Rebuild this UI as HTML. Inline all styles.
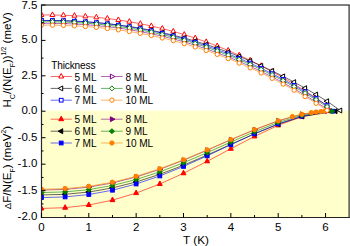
<!DOCTYPE html><html><head><meta charset="utf-8"><style>html,body{margin:0;padding:0;background:#fff;overflow:hidden;}svg{display:block;}text{font-family:"Liberation Sans",sans-serif;fill:#000;}</style></head><body>
<svg width="350" height="246" viewBox="0 0 350 246">
<rect x="0" y="0" width="350" height="246" fill="#FFFFFF"/>
<rect x="41.50" y="110.60" width="307.60" height="106.90" fill="#FFFFCC"/>
<defs><clipPath id="cp"><rect x="41.50" y="5.00" width="307.60" height="212.50"/></clipPath></defs>
<g clip-path="url(#cp)">
<polyline points="41.45,208.45 65.12,207.70 88.80,205.00 112.48,200.13 136.15,193.09 159.82,184.03 183.50,173.28 207.18,161.30 230.85,148.75 254.53,136.44 278.20,125.35 301.88,116.67 331.23,111.20" fill="none" stroke="#FF0000" stroke-width="0.60"/>
<polygon points="41.45,205.41 39.00,209.97 43.90,209.97" fill="#FF0000" stroke="#FF0000" stroke-width="1.00"/>
<polygon points="65.12,204.65 62.68,209.21 67.57,209.21" fill="#FF0000" stroke="#FF0000" stroke-width="1.00"/>
<polygon points="88.80,201.95 86.35,206.51 91.25,206.51" fill="#FF0000" stroke="#FF0000" stroke-width="1.00"/>
<polygon points="112.48,197.08 110.03,201.64 114.92,201.64" fill="#FF0000" stroke="#FF0000" stroke-width="1.00"/>
<polygon points="136.15,190.04 133.70,194.60 138.60,194.60" fill="#FF0000" stroke="#FF0000" stroke-width="1.00"/>
<polygon points="159.82,180.98 157.38,185.54 162.27,185.54" fill="#FF0000" stroke="#FF0000" stroke-width="1.00"/>
<polygon points="183.50,170.23 181.05,174.79 185.95,174.79" fill="#FF0000" stroke="#FF0000" stroke-width="1.00"/>
<polygon points="207.18,158.26 204.73,162.82 209.62,162.82" fill="#FF0000" stroke="#FF0000" stroke-width="1.00"/>
<polygon points="230.85,145.70 228.40,150.26 233.30,150.26" fill="#FF0000" stroke="#FF0000" stroke-width="1.00"/>
<polygon points="254.53,133.39 252.08,137.95 256.97,137.95" fill="#FF0000" stroke="#FF0000" stroke-width="1.00"/>
<polygon points="278.20,122.30 275.75,126.86 280.65,126.86" fill="#FF0000" stroke="#FF0000" stroke-width="1.00"/>
<polygon points="301.88,113.62 299.43,118.18 304.32,118.18" fill="#FF0000" stroke="#FF0000" stroke-width="1.00"/>
<polygon points="331.23,108.15 328.78,112.71 333.68,112.71" fill="#FF0000" stroke="#FF0000" stroke-width="1.00"/>
<polyline points="41.45,14.91 52.44,14.98 63.42,15.23 74.41,15.70 85.39,16.39 96.38,17.32 107.36,18.51 118.35,19.97 129.33,21.69 140.32,23.70 151.30,25.99 162.29,28.57 173.27,31.45 184.26,34.64 195.24,38.13 206.23,41.94 217.21,46.06 228.20,50.51 239.18,55.28 250.17,60.37 261.15,65.80 272.14,71.57 283.12,77.68 294.11,84.12 305.09,90.92 316.08,98.06 327.07,105.55" fill="none" stroke="#FF0000" stroke-width="0.60"/>
<polygon points="41.45,11.86 39.00,16.42 43.90,16.42" fill="#FFFFFF" stroke="#FF0000" stroke-width="1.00"/>
<polygon points="52.44,11.93 49.99,16.49 54.88,16.49" fill="#FFFFFF" stroke="#FF0000" stroke-width="1.00"/>
<polygon points="63.42,12.19 60.97,16.75 65.87,16.75" fill="#FFFFFF" stroke="#FF0000" stroke-width="1.00"/>
<polygon points="74.41,12.65 71.96,17.21 76.85,17.21" fill="#FFFFFF" stroke="#FF0000" stroke-width="1.00"/>
<polygon points="85.39,13.34 82.94,17.90 87.84,17.90" fill="#FFFFFF" stroke="#FF0000" stroke-width="1.00"/>
<polygon points="96.38,14.27 93.93,18.83 98.82,18.83" fill="#FFFFFF" stroke="#FF0000" stroke-width="1.00"/>
<polygon points="107.36,15.46 104.91,20.02 109.81,20.02" fill="#FFFFFF" stroke="#FF0000" stroke-width="1.00"/>
<polygon points="118.35,16.92 115.90,21.48 120.79,21.48" fill="#FFFFFF" stroke="#FF0000" stroke-width="1.00"/>
<polygon points="129.33,18.64 126.88,23.20 131.78,23.20" fill="#FFFFFF" stroke="#FF0000" stroke-width="1.00"/>
<polygon points="140.32,20.65 137.87,25.21 142.76,25.21" fill="#FFFFFF" stroke="#FF0000" stroke-width="1.00"/>
<polygon points="151.30,22.94 148.85,27.50 153.75,27.50" fill="#FFFFFF" stroke="#FF0000" stroke-width="1.00"/>
<polygon points="162.29,25.52 159.84,30.08 164.74,30.08" fill="#FFFFFF" stroke="#FF0000" stroke-width="1.00"/>
<polygon points="173.27,28.41 170.82,32.97 175.72,32.97" fill="#FFFFFF" stroke="#FF0000" stroke-width="1.00"/>
<polygon points="184.26,31.59 181.81,36.15 186.71,36.15" fill="#FFFFFF" stroke="#FF0000" stroke-width="1.00"/>
<polygon points="195.24,35.08 192.79,39.64 197.69,39.64" fill="#FFFFFF" stroke="#FF0000" stroke-width="1.00"/>
<polygon points="206.23,38.89 203.78,43.45 208.68,43.45" fill="#FFFFFF" stroke="#FF0000" stroke-width="1.00"/>
<polygon points="217.21,43.01 214.77,47.57 219.66,47.57" fill="#FFFFFF" stroke="#FF0000" stroke-width="1.00"/>
<polygon points="228.20,47.46 225.75,52.02 230.65,52.02" fill="#FFFFFF" stroke="#FF0000" stroke-width="1.00"/>
<polygon points="239.18,52.23 236.74,56.79 241.63,56.79" fill="#FFFFFF" stroke="#FF0000" stroke-width="1.00"/>
<polygon points="250.17,57.33 247.72,61.89 252.62,61.89" fill="#FFFFFF" stroke="#FF0000" stroke-width="1.00"/>
<polygon points="261.15,62.76 258.71,67.32 263.60,67.32" fill="#FFFFFF" stroke="#FF0000" stroke-width="1.00"/>
<polygon points="272.14,68.52 269.69,73.08 274.59,73.08" fill="#FFFFFF" stroke="#FF0000" stroke-width="1.00"/>
<polygon points="283.12,74.63 280.68,79.19 285.57,79.19" fill="#FFFFFF" stroke="#FF0000" stroke-width="1.00"/>
<polygon points="294.11,81.08 291.66,85.64 296.56,85.64" fill="#FFFFFF" stroke="#FF0000" stroke-width="1.00"/>
<polygon points="305.09,87.87 302.65,92.43 307.54,92.43" fill="#FFFFFF" stroke="#FF0000" stroke-width="1.00"/>
<polygon points="316.08,95.01 313.63,99.57 318.53,99.57" fill="#FFFFFF" stroke="#FF0000" stroke-width="1.00"/>
<polygon points="327.07,102.51 324.62,107.07 329.51,107.07" fill="#FFFFFF" stroke="#FF0000" stroke-width="1.00"/>
<polyline points="41.45,194.94 65.12,194.30 88.80,192.03 112.48,187.92 136.15,181.97 159.82,174.32 183.50,165.22 207.18,155.05 230.85,144.36 254.53,133.81 278.20,124.22 301.88,116.56 335.49,111.20" fill="none" stroke="#000000" stroke-width="0.60"/>
<polygon points="38.40,194.94 42.96,192.49 42.96,197.39" fill="#000000" stroke="#000000" stroke-width="1.00"/>
<polygon points="62.08,194.30 66.64,191.85 66.64,196.75" fill="#000000" stroke="#000000" stroke-width="1.00"/>
<polygon points="85.75,192.03 90.31,189.58 90.31,194.47" fill="#000000" stroke="#000000" stroke-width="1.00"/>
<polygon points="109.43,187.92 113.99,185.47 113.99,190.37" fill="#000000" stroke="#000000" stroke-width="1.00"/>
<polygon points="133.10,181.97 137.66,179.53 137.66,184.42" fill="#000000" stroke="#000000" stroke-width="1.00"/>
<polygon points="156.78,174.32 161.34,171.87 161.34,176.77" fill="#000000" stroke="#000000" stroke-width="1.00"/>
<polygon points="180.45,165.22 185.01,162.77 185.01,167.66" fill="#000000" stroke="#000000" stroke-width="1.00"/>
<polygon points="204.13,155.05 208.69,152.61 208.69,157.50" fill="#000000" stroke="#000000" stroke-width="1.00"/>
<polygon points="227.80,144.36 232.36,141.91 232.36,146.81" fill="#000000" stroke="#000000" stroke-width="1.00"/>
<polygon points="251.48,133.81 256.04,131.36 256.04,136.26" fill="#000000" stroke="#000000" stroke-width="1.00"/>
<polygon points="275.15,124.22 279.71,121.77 279.71,126.67" fill="#000000" stroke="#000000" stroke-width="1.00"/>
<polygon points="298.83,116.56 303.39,114.11 303.39,119.01" fill="#000000" stroke="#000000" stroke-width="1.00"/>
<polygon points="332.45,111.20 337.01,108.75 337.01,113.65" fill="#000000" stroke="#000000" stroke-width="1.00"/>
<polyline points="41.45,20.43 52.44,20.50 63.42,20.72 74.41,21.13 85.39,21.75 96.38,22.58 107.36,23.64 118.35,24.94 129.33,26.48 140.32,28.26 151.30,30.31 162.29,32.61 173.27,35.18 184.26,38.02 195.24,41.13 206.23,44.52 217.21,48.20 228.20,52.16 239.18,56.41 250.17,60.95 261.15,65.79 272.14,70.93 283.12,76.37 294.11,82.12 305.09,88.18 316.08,94.54 327.07,101.22 340.23,110.49" fill="none" stroke="#000000" stroke-width="0.60"/>
<polygon points="38.40,20.43 42.96,17.99 42.96,22.88" fill="#FFFFFF" stroke="#000000" stroke-width="1.00"/>
<polygon points="49.39,20.50 53.95,18.05 53.95,22.94" fill="#FFFFFF" stroke="#000000" stroke-width="1.00"/>
<polygon points="60.37,20.72 64.93,18.27 64.93,23.17" fill="#FFFFFF" stroke="#000000" stroke-width="1.00"/>
<polygon points="71.36,21.13 75.92,18.68 75.92,23.58" fill="#FFFFFF" stroke="#000000" stroke-width="1.00"/>
<polygon points="82.34,21.75 86.90,19.30 86.90,24.20" fill="#FFFFFF" stroke="#000000" stroke-width="1.00"/>
<polygon points="93.33,22.58 97.89,20.13 97.89,25.03" fill="#FFFFFF" stroke="#000000" stroke-width="1.00"/>
<polygon points="104.31,23.64 108.87,21.20 108.87,26.09" fill="#FFFFFF" stroke="#000000" stroke-width="1.00"/>
<polygon points="115.30,24.94 119.86,22.49 119.86,27.39" fill="#FFFFFF" stroke="#000000" stroke-width="1.00"/>
<polygon points="126.28,26.48 130.84,24.03 130.84,28.92" fill="#FFFFFF" stroke="#000000" stroke-width="1.00"/>
<polygon points="137.27,28.26 141.83,25.82 141.83,30.71" fill="#FFFFFF" stroke="#000000" stroke-width="1.00"/>
<polygon points="148.25,30.31 152.81,27.86 152.81,32.75" fill="#FFFFFF" stroke="#000000" stroke-width="1.00"/>
<polygon points="159.24,32.61 163.80,30.16 163.80,35.06" fill="#FFFFFF" stroke="#000000" stroke-width="1.00"/>
<polygon points="170.22,35.18 174.78,32.73 174.78,37.63" fill="#FFFFFF" stroke="#000000" stroke-width="1.00"/>
<polygon points="181.21,38.02 185.77,35.57 185.77,40.46" fill="#FFFFFF" stroke="#000000" stroke-width="1.00"/>
<polygon points="192.19,41.13 196.75,38.68 196.75,43.58" fill="#FFFFFF" stroke="#000000" stroke-width="1.00"/>
<polygon points="203.18,44.52 207.74,42.07 207.74,46.97" fill="#FFFFFF" stroke="#000000" stroke-width="1.00"/>
<polygon points="214.17,48.20 218.73,45.75 218.73,50.64" fill="#FFFFFF" stroke="#000000" stroke-width="1.00"/>
<polygon points="225.15,52.16 229.71,49.71 229.71,54.61" fill="#FFFFFF" stroke="#000000" stroke-width="1.00"/>
<polygon points="236.14,56.41 240.70,53.96 240.70,58.86" fill="#FFFFFF" stroke="#000000" stroke-width="1.00"/>
<polygon points="247.12,60.95 251.68,58.50 251.68,63.40" fill="#FFFFFF" stroke="#000000" stroke-width="1.00"/>
<polygon points="258.11,65.79 262.67,63.34 262.67,68.24" fill="#FFFFFF" stroke="#000000" stroke-width="1.00"/>
<polygon points="269.09,70.93 273.65,68.48 273.65,73.38" fill="#FFFFFF" stroke="#000000" stroke-width="1.00"/>
<polygon points="280.08,76.37 284.64,73.93 284.64,78.82" fill="#FFFFFF" stroke="#000000" stroke-width="1.00"/>
<polygon points="291.06,82.12 295.62,79.67 295.62,84.57" fill="#FFFFFF" stroke="#000000" stroke-width="1.00"/>
<polygon points="302.05,88.18 306.61,85.73 306.61,90.62" fill="#FFFFFF" stroke="#000000" stroke-width="1.00"/>
<polygon points="313.03,94.54 317.59,92.09 317.59,96.99" fill="#FFFFFF" stroke="#000000" stroke-width="1.00"/>
<polygon points="324.02,101.22 328.58,98.77 328.58,103.67" fill="#FFFFFF" stroke="#000000" stroke-width="1.00"/>
<polygon points="337.18,110.49 341.74,108.04 341.74,112.94" fill="#FFFFFF" stroke="#000000" stroke-width="1.00"/>
<polyline points="41.45,197.59 65.12,196.92 88.80,194.53 112.48,190.22 136.15,183.99 159.82,175.97 183.50,166.44 207.18,155.83 230.85,144.70 254.53,133.77 278.20,123.91 301.88,116.17 332.65,111.20" fill="none" stroke="#0000FF" stroke-width="0.60"/>
<rect x="39.58" y="195.72" width="3.74" height="3.74" fill="#0000FF" stroke="#0000FF" stroke-width="1.00"/>
<rect x="63.25" y="195.05" width="3.74" height="3.74" fill="#0000FF" stroke="#0000FF" stroke-width="1.00"/>
<rect x="86.93" y="192.66" width="3.74" height="3.74" fill="#0000FF" stroke="#0000FF" stroke-width="1.00"/>
<rect x="110.60" y="188.35" width="3.74" height="3.74" fill="#0000FF" stroke="#0000FF" stroke-width="1.00"/>
<rect x="134.28" y="182.11" width="3.74" height="3.74" fill="#0000FF" stroke="#0000FF" stroke-width="1.00"/>
<rect x="157.95" y="174.09" width="3.74" height="3.74" fill="#0000FF" stroke="#0000FF" stroke-width="1.00"/>
<rect x="181.63" y="164.57" width="3.74" height="3.74" fill="#0000FF" stroke="#0000FF" stroke-width="1.00"/>
<rect x="205.30" y="153.96" width="3.74" height="3.74" fill="#0000FF" stroke="#0000FF" stroke-width="1.00"/>
<rect x="228.98" y="142.83" width="3.74" height="3.74" fill="#0000FF" stroke="#0000FF" stroke-width="1.00"/>
<rect x="252.65" y="131.90" width="3.74" height="3.74" fill="#0000FF" stroke="#0000FF" stroke-width="1.00"/>
<rect x="276.33" y="122.04" width="3.74" height="3.74" fill="#0000FF" stroke="#0000FF" stroke-width="1.00"/>
<rect x="300.00" y="114.30" width="3.74" height="3.74" fill="#0000FF" stroke="#0000FF" stroke-width="1.00"/>
<rect x="330.78" y="109.33" width="3.74" height="3.74" fill="#0000FF" stroke="#0000FF" stroke-width="1.00"/>
<polyline points="41.45,20.43 52.44,20.50 63.42,20.74 74.41,21.17 85.39,21.82 96.38,22.70 107.36,23.82 118.35,25.18 129.33,26.80 140.32,28.69 151.30,30.84 162.29,33.27 173.27,35.97 184.26,38.96 195.24,42.25 206.23,45.82 217.21,49.69 228.20,53.87 239.18,58.35 250.17,63.14 261.15,68.24 272.14,73.65 283.12,79.39 294.11,85.45 305.09,91.83 316.08,98.54 327.07,105.57" fill="none" stroke="#0000FF" stroke-width="0.60"/>
<rect x="39.58" y="18.56" width="3.74" height="3.74" fill="#FFFFFF" stroke="#0000FF" stroke-width="1.00"/>
<rect x="50.56" y="18.63" width="3.74" height="3.74" fill="#FFFFFF" stroke="#0000FF" stroke-width="1.00"/>
<rect x="61.55" y="18.86" width="3.74" height="3.74" fill="#FFFFFF" stroke="#0000FF" stroke-width="1.00"/>
<rect x="72.53" y="19.30" width="3.74" height="3.74" fill="#FFFFFF" stroke="#0000FF" stroke-width="1.00"/>
<rect x="83.52" y="19.95" width="3.74" height="3.74" fill="#FFFFFF" stroke="#0000FF" stroke-width="1.00"/>
<rect x="94.50" y="20.83" width="3.74" height="3.74" fill="#FFFFFF" stroke="#0000FF" stroke-width="1.00"/>
<rect x="105.49" y="21.94" width="3.74" height="3.74" fill="#FFFFFF" stroke="#0000FF" stroke-width="1.00"/>
<rect x="116.47" y="23.31" width="3.74" height="3.74" fill="#FFFFFF" stroke="#0000FF" stroke-width="1.00"/>
<rect x="127.46" y="24.93" width="3.74" height="3.74" fill="#FFFFFF" stroke="#0000FF" stroke-width="1.00"/>
<rect x="138.44" y="26.81" width="3.74" height="3.74" fill="#FFFFFF" stroke="#0000FF" stroke-width="1.00"/>
<rect x="149.43" y="28.97" width="3.74" height="3.74" fill="#FFFFFF" stroke="#0000FF" stroke-width="1.00"/>
<rect x="160.42" y="31.39" width="3.74" height="3.74" fill="#FFFFFF" stroke="#0000FF" stroke-width="1.00"/>
<rect x="171.40" y="34.10" width="3.74" height="3.74" fill="#FFFFFF" stroke="#0000FF" stroke-width="1.00"/>
<rect x="182.39" y="37.09" width="3.74" height="3.74" fill="#FFFFFF" stroke="#0000FF" stroke-width="1.00"/>
<rect x="193.37" y="40.37" width="3.74" height="3.74" fill="#FFFFFF" stroke="#0000FF" stroke-width="1.00"/>
<rect x="204.36" y="43.95" width="3.74" height="3.74" fill="#FFFFFF" stroke="#0000FF" stroke-width="1.00"/>
<rect x="215.34" y="47.82" width="3.74" height="3.74" fill="#FFFFFF" stroke="#0000FF" stroke-width="1.00"/>
<rect x="226.33" y="52.00" width="3.74" height="3.74" fill="#FFFFFF" stroke="#0000FF" stroke-width="1.00"/>
<rect x="237.31" y="56.48" width="3.74" height="3.74" fill="#FFFFFF" stroke="#0000FF" stroke-width="1.00"/>
<rect x="248.30" y="61.26" width="3.74" height="3.74" fill="#FFFFFF" stroke="#0000FF" stroke-width="1.00"/>
<rect x="259.28" y="66.37" width="3.74" height="3.74" fill="#FFFFFF" stroke="#0000FF" stroke-width="1.00"/>
<rect x="270.27" y="71.78" width="3.74" height="3.74" fill="#FFFFFF" stroke="#0000FF" stroke-width="1.00"/>
<rect x="281.25" y="77.52" width="3.74" height="3.74" fill="#FFFFFF" stroke="#0000FF" stroke-width="1.00"/>
<rect x="292.24" y="83.57" width="3.74" height="3.74" fill="#FFFFFF" stroke="#0000FF" stroke-width="1.00"/>
<rect x="303.22" y="89.96" width="3.74" height="3.74" fill="#FFFFFF" stroke="#0000FF" stroke-width="1.00"/>
<rect x="314.21" y="96.66" width="3.74" height="3.74" fill="#FFFFFF" stroke="#0000FF" stroke-width="1.00"/>
<rect x="325.19" y="103.70" width="3.74" height="3.74" fill="#FFFFFF" stroke="#0000FF" stroke-width="1.00"/>
<polyline points="41.45,190.06 65.12,189.42 88.80,187.12 112.48,182.97 136.15,176.99 159.82,169.32 183.50,160.25 207.18,150.21 230.85,139.78 254.53,129.69 278.20,120.84 301.88,114.29 326.97,111.20" fill="none" stroke="#800080" stroke-width="0.60"/>
<polygon points="44.50,190.06 39.94,187.62 39.94,192.51" fill="#800080" stroke="#800080" stroke-width="1.00"/>
<polygon points="68.17,189.42 63.61,186.97 63.61,191.87" fill="#800080" stroke="#800080" stroke-width="1.00"/>
<polygon points="91.85,187.12 87.29,184.67 87.29,189.57" fill="#800080" stroke="#800080" stroke-width="1.00"/>
<polygon points="115.52,182.97 110.96,180.53 110.96,185.42" fill="#800080" stroke="#800080" stroke-width="1.00"/>
<polygon points="139.20,176.99 134.64,174.54 134.64,179.44" fill="#800080" stroke="#800080" stroke-width="1.00"/>
<polygon points="162.87,169.32 158.31,166.87 158.31,171.77" fill="#800080" stroke="#800080" stroke-width="1.00"/>
<polygon points="186.55,160.25 181.99,157.80 181.99,162.69" fill="#800080" stroke="#800080" stroke-width="1.00"/>
<polygon points="210.22,150.21 205.66,147.76 205.66,152.65" fill="#800080" stroke="#800080" stroke-width="1.00"/>
<polygon points="233.90,139.78 229.34,137.33 229.34,142.22" fill="#800080" stroke="#800080" stroke-width="1.00"/>
<polygon points="257.57,129.69 253.01,127.24 253.01,132.14" fill="#800080" stroke="#800080" stroke-width="1.00"/>
<polygon points="281.25,120.84 276.69,118.39 276.69,123.29" fill="#800080" stroke="#800080" stroke-width="1.00"/>
<polygon points="304.92,114.29 300.36,111.84 300.36,116.74" fill="#800080" stroke="#800080" stroke-width="1.00"/>
<polygon points="330.02,111.20 325.46,108.75 325.46,113.65" fill="#800080" stroke="#800080" stroke-width="1.00"/>
<polyline points="41.45,23.27 52.44,23.33 63.42,23.57 74.41,24.01 85.39,24.66 96.38,25.55 107.36,26.67 118.35,28.05 129.33,29.68 140.32,31.58 151.30,33.75 162.29,36.20 173.27,38.92 184.26,41.94 195.24,45.24 206.23,48.85 217.21,52.75 228.20,56.96 239.18,61.47 250.17,66.30 261.15,71.44 272.14,76.89 283.12,82.67 294.11,88.78 305.09,95.21 316.08,101.97 327.07,109.06" fill="none" stroke="#800080" stroke-width="0.60"/>
<polygon points="44.50,23.27 39.94,20.82 39.94,25.71" fill="#FFFFFF" stroke="#800080" stroke-width="1.00"/>
<polygon points="55.48,23.33 50.92,20.88 50.92,25.78" fill="#FFFFFF" stroke="#800080" stroke-width="1.00"/>
<polygon points="66.47,23.57 61.91,21.12 61.91,26.02" fill="#FFFFFF" stroke="#800080" stroke-width="1.00"/>
<polygon points="77.45,24.01 72.89,21.56 72.89,26.46" fill="#FFFFFF" stroke="#800080" stroke-width="1.00"/>
<polygon points="88.44,24.66 83.88,22.21 83.88,27.11" fill="#FFFFFF" stroke="#800080" stroke-width="1.00"/>
<polygon points="99.42,25.55 94.86,23.10 94.86,28.00" fill="#FFFFFF" stroke="#800080" stroke-width="1.00"/>
<polygon points="110.41,26.67 105.85,24.23 105.85,29.12" fill="#FFFFFF" stroke="#800080" stroke-width="1.00"/>
<polygon points="121.39,28.05 116.83,25.60 116.83,30.50" fill="#FFFFFF" stroke="#800080" stroke-width="1.00"/>
<polygon points="132.38,29.68 127.82,27.23 127.82,32.13" fill="#FFFFFF" stroke="#800080" stroke-width="1.00"/>
<polygon points="143.36,31.58 138.80,29.13 138.80,34.03" fill="#FFFFFF" stroke="#800080" stroke-width="1.00"/>
<polygon points="154.35,33.75 149.79,31.30 149.79,36.20" fill="#FFFFFF" stroke="#800080" stroke-width="1.00"/>
<polygon points="165.34,36.20 160.78,33.75 160.78,38.64" fill="#FFFFFF" stroke="#800080" stroke-width="1.00"/>
<polygon points="176.32,38.92 171.76,36.48 171.76,41.37" fill="#FFFFFF" stroke="#800080" stroke-width="1.00"/>
<polygon points="187.31,41.94 182.75,39.49 182.75,44.39" fill="#FFFFFF" stroke="#800080" stroke-width="1.00"/>
<polygon points="198.29,45.24 193.73,42.80 193.73,47.69" fill="#FFFFFF" stroke="#800080" stroke-width="1.00"/>
<polygon points="209.28,48.85 204.72,46.40 204.72,51.29" fill="#FFFFFF" stroke="#800080" stroke-width="1.00"/>
<polygon points="220.26,52.75 215.70,50.30 215.70,55.20" fill="#FFFFFF" stroke="#800080" stroke-width="1.00"/>
<polygon points="231.25,56.96 226.69,54.51 226.69,59.40" fill="#FFFFFF" stroke="#800080" stroke-width="1.00"/>
<polygon points="242.23,61.47 237.67,59.02 237.67,63.92" fill="#FFFFFF" stroke="#800080" stroke-width="1.00"/>
<polygon points="253.22,66.30 248.66,63.85 248.66,68.74" fill="#FFFFFF" stroke="#800080" stroke-width="1.00"/>
<polygon points="264.20,71.44 259.64,68.99 259.64,73.88" fill="#FFFFFF" stroke="#800080" stroke-width="1.00"/>
<polygon points="275.19,76.89 270.63,74.45 270.63,79.34" fill="#FFFFFF" stroke="#800080" stroke-width="1.00"/>
<polygon points="286.17,82.67 281.61,80.22 281.61,85.12" fill="#FFFFFF" stroke="#800080" stroke-width="1.00"/>
<polygon points="297.16,88.78 292.60,86.33 292.60,91.22" fill="#FFFFFF" stroke="#800080" stroke-width="1.00"/>
<polygon points="308.14,95.21 303.58,92.76 303.58,97.65" fill="#FFFFFF" stroke="#800080" stroke-width="1.00"/>
<polygon points="319.13,101.97 314.57,99.52 314.57,104.41" fill="#FFFFFF" stroke="#800080" stroke-width="1.00"/>
<polygon points="330.11,109.06 325.55,106.61 325.55,111.51" fill="#FFFFFF" stroke="#800080" stroke-width="1.00"/>
<polyline points="41.45,192.56 65.12,191.91 88.80,189.62 112.48,185.49 136.15,179.52 159.82,171.85 183.50,162.76 207.18,152.64 230.85,142.07 254.53,131.73 278.20,122.49 301.88,115.36 331.94,111.20" fill="none" stroke="#008000" stroke-width="0.60"/>
<polygon points="41.45,190.03 43.97,192.56 41.45,195.08 38.93,192.56" fill="#008000" stroke="#008000" stroke-width="1.00"/>
<polygon points="65.12,189.39 67.64,191.91 65.12,194.43 62.60,191.91" fill="#008000" stroke="#008000" stroke-width="1.00"/>
<polygon points="88.80,187.10 91.32,189.62 88.80,192.14 86.28,189.62" fill="#008000" stroke="#008000" stroke-width="1.00"/>
<polygon points="112.48,182.97 115.00,185.49 112.48,188.01 109.96,185.49" fill="#008000" stroke="#008000" stroke-width="1.00"/>
<polygon points="136.15,177.00 138.67,179.52 136.15,182.04 133.63,179.52" fill="#008000" stroke="#008000" stroke-width="1.00"/>
<polygon points="159.82,169.33 162.34,171.85 159.82,174.37 157.30,171.85" fill="#008000" stroke="#008000" stroke-width="1.00"/>
<polygon points="183.50,160.24 186.02,162.76 183.50,165.28 180.98,162.76" fill="#008000" stroke="#008000" stroke-width="1.00"/>
<polygon points="207.18,150.12 209.70,152.64 207.18,155.16 204.66,152.64" fill="#008000" stroke="#008000" stroke-width="1.00"/>
<polygon points="230.85,139.55 233.37,142.07 230.85,144.59 228.33,142.07" fill="#008000" stroke="#008000" stroke-width="1.00"/>
<polygon points="254.53,129.21 257.05,131.73 254.53,134.25 252.01,131.73" fill="#008000" stroke="#008000" stroke-width="1.00"/>
<polygon points="278.20,119.97 280.72,122.49 278.20,125.01 275.68,122.49" fill="#008000" stroke="#008000" stroke-width="1.00"/>
<polygon points="301.88,112.84 304.39,115.36 301.88,117.88 299.36,115.36" fill="#008000" stroke="#008000" stroke-width="1.00"/>
<polygon points="331.94,108.68 334.46,111.20 331.94,113.72 329.42,111.20" fill="#008000" stroke="#008000" stroke-width="1.00"/>
<polyline points="41.45,21.71 52.44,21.77 63.42,22.01 74.41,22.44 85.39,23.09 96.38,23.97 107.36,25.09 118.35,26.46 129.33,28.08 140.32,29.96 151.30,32.11 162.29,34.54 173.27,37.25 184.26,40.24 195.24,43.52 206.23,47.10 217.21,50.97 228.20,55.14 239.18,59.63 250.17,64.41 261.15,69.52 272.14,74.93 283.12,80.67 294.11,86.73 305.09,93.11 316.08,99.82 327.07,106.86" fill="none" stroke="#008000" stroke-width="0.60"/>
<polygon points="41.45,19.19 43.97,21.71 41.45,24.23 38.93,21.71" fill="#FFFFFF" stroke="#008000" stroke-width="1.00"/>
<polygon points="52.44,19.25 54.96,21.77 52.44,24.29 49.92,21.77" fill="#FFFFFF" stroke="#008000" stroke-width="1.00"/>
<polygon points="63.42,19.49 65.94,22.01 63.42,24.53 60.90,22.01" fill="#FFFFFF" stroke="#008000" stroke-width="1.00"/>
<polygon points="74.41,19.92 76.93,22.44 74.41,24.96 71.89,22.44" fill="#FFFFFF" stroke="#008000" stroke-width="1.00"/>
<polygon points="85.39,20.57 87.91,23.09 85.39,25.61 82.87,23.09" fill="#FFFFFF" stroke="#008000" stroke-width="1.00"/>
<polygon points="96.38,21.45 98.90,23.97 96.38,26.49 93.86,23.97" fill="#FFFFFF" stroke="#008000" stroke-width="1.00"/>
<polygon points="107.36,22.57 109.88,25.09 107.36,27.61 104.84,25.09" fill="#FFFFFF" stroke="#008000" stroke-width="1.00"/>
<polygon points="118.35,23.94 120.87,26.46 118.35,28.98 115.83,26.46" fill="#FFFFFF" stroke="#008000" stroke-width="1.00"/>
<polygon points="129.33,25.56 131.85,28.08 129.33,30.60 126.81,28.08" fill="#FFFFFF" stroke="#008000" stroke-width="1.00"/>
<polygon points="140.32,27.44 142.84,29.96 140.32,32.48 137.80,29.96" fill="#FFFFFF" stroke="#008000" stroke-width="1.00"/>
<polygon points="151.30,29.59 153.82,32.11 151.30,34.63 148.78,32.11" fill="#FFFFFF" stroke="#008000" stroke-width="1.00"/>
<polygon points="162.29,32.02 164.81,34.54 162.29,37.06 159.77,34.54" fill="#FFFFFF" stroke="#008000" stroke-width="1.00"/>
<polygon points="173.27,34.73 175.79,37.25 173.27,39.77 170.75,37.25" fill="#FFFFFF" stroke="#008000" stroke-width="1.00"/>
<polygon points="184.26,37.72 186.78,40.24 184.26,42.76 181.74,40.24" fill="#FFFFFF" stroke="#008000" stroke-width="1.00"/>
<polygon points="195.24,41.00 197.76,43.52 195.24,46.04 192.72,43.52" fill="#FFFFFF" stroke="#008000" stroke-width="1.00"/>
<polygon points="206.23,44.58 208.75,47.10 206.23,49.62 203.71,47.10" fill="#FFFFFF" stroke="#008000" stroke-width="1.00"/>
<polygon points="217.21,48.45 219.73,50.97 217.21,53.49 214.69,50.97" fill="#FFFFFF" stroke="#008000" stroke-width="1.00"/>
<polygon points="228.20,52.62 230.72,55.14 228.20,57.66 225.68,55.14" fill="#FFFFFF" stroke="#008000" stroke-width="1.00"/>
<polygon points="239.18,57.11 241.70,59.63 239.18,62.15 236.66,59.63" fill="#FFFFFF" stroke="#008000" stroke-width="1.00"/>
<polygon points="250.17,61.89 252.69,64.41 250.17,66.93 247.65,64.41" fill="#FFFFFF" stroke="#008000" stroke-width="1.00"/>
<polygon points="261.15,67.00 263.67,69.52 261.15,72.04 258.63,69.52" fill="#FFFFFF" stroke="#008000" stroke-width="1.00"/>
<polygon points="272.14,72.41 274.66,74.93 272.14,77.45 269.62,74.93" fill="#FFFFFF" stroke="#008000" stroke-width="1.00"/>
<polygon points="283.12,78.15 285.64,80.67 283.12,83.19 280.60,80.67" fill="#FFFFFF" stroke="#008000" stroke-width="1.00"/>
<polygon points="294.11,84.21 296.63,86.73 294.11,89.25 291.59,86.73" fill="#FFFFFF" stroke="#008000" stroke-width="1.00"/>
<polygon points="305.09,90.59 307.61,93.11 305.09,95.63 302.57,93.11" fill="#FFFFFF" stroke="#008000" stroke-width="1.00"/>
<polygon points="316.08,97.30 318.60,99.82 316.08,102.34 313.56,99.82" fill="#FFFFFF" stroke="#008000" stroke-width="1.00"/>
<polygon points="327.07,104.34 329.59,106.86 327.07,109.38 324.55,106.86" fill="#FFFFFF" stroke="#008000" stroke-width="1.00"/>
<polyline points="41.45,189.22 65.12,188.58 88.80,186.31 112.48,182.23 136.15,176.33 159.82,168.76 183.50,159.81 207.18,149.90 230.85,139.60 254.53,129.63 278.20,120.87 292.41,116.61 301.88,114.35 311.35,112.63 316.08,112.01 320.81,111.55 324.60,111.20" fill="none" stroke="#FF8000" stroke-width="0.60"/>
<circle cx="41.45" cy="189.22" r="2.16" fill="#FF8000" stroke="#FF8000" stroke-width="1.00"/>
<circle cx="65.12" cy="188.58" r="2.16" fill="#FF8000" stroke="#FF8000" stroke-width="1.00"/>
<circle cx="88.80" cy="186.31" r="2.16" fill="#FF8000" stroke="#FF8000" stroke-width="1.00"/>
<circle cx="112.48" cy="182.23" r="2.16" fill="#FF8000" stroke="#FF8000" stroke-width="1.00"/>
<circle cx="136.15" cy="176.33" r="2.16" fill="#FF8000" stroke="#FF8000" stroke-width="1.00"/>
<circle cx="159.82" cy="168.76" r="2.16" fill="#FF8000" stroke="#FF8000" stroke-width="1.00"/>
<circle cx="183.50" cy="159.81" r="2.16" fill="#FF8000" stroke="#FF8000" stroke-width="1.00"/>
<circle cx="207.18" cy="149.90" r="2.16" fill="#FF8000" stroke="#FF8000" stroke-width="1.00"/>
<circle cx="230.85" cy="139.60" r="2.16" fill="#FF8000" stroke="#FF8000" stroke-width="1.00"/>
<circle cx="254.53" cy="129.63" r="2.16" fill="#FF8000" stroke="#FF8000" stroke-width="1.00"/>
<circle cx="278.20" cy="120.87" r="2.16" fill="#FF8000" stroke="#FF8000" stroke-width="1.00"/>
<circle cx="292.41" cy="116.61" r="2.16" fill="#FF8000" stroke="#FF8000" stroke-width="1.00"/>
<circle cx="301.88" cy="114.35" r="2.16" fill="#FF8000" stroke="#FF8000" stroke-width="1.00"/>
<circle cx="311.35" cy="112.63" r="2.16" fill="#FF8000" stroke="#FF8000" stroke-width="1.00"/>
<circle cx="316.08" cy="112.01" r="2.16" fill="#FF8000" stroke="#FF8000" stroke-width="1.00"/>
<circle cx="320.81" cy="111.55" r="2.16" fill="#FF8000" stroke="#FF8000" stroke-width="1.00"/>
<circle cx="324.60" cy="111.20" r="2.16" fill="#FF8000" stroke="#FF8000" stroke-width="1.00"/>
<polyline points="41.45,25.11 52.44,25.17 63.42,25.41 74.41,25.84 85.39,26.49 96.38,27.37 107.36,28.49 118.35,29.86 129.33,31.48 140.32,33.37 151.30,35.52 162.29,37.95 173.27,40.66 184.26,43.65 195.24,46.94 206.23,50.52 217.21,54.39 228.20,58.57 239.18,63.06 250.17,67.85 261.15,72.96 272.14,78.38 283.12,84.12 294.11,90.18 305.09,96.57 316.08,103.28 327.07,110.33" fill="none" stroke="#FF8000" stroke-width="0.60"/>
<circle cx="41.45" cy="25.11" r="2.16" fill="#FFFFFF" stroke="#FF8000" stroke-width="1.00"/>
<circle cx="52.44" cy="25.17" r="2.16" fill="#FFFFFF" stroke="#FF8000" stroke-width="1.00"/>
<circle cx="63.42" cy="25.41" r="2.16" fill="#FFFFFF" stroke="#FF8000" stroke-width="1.00"/>
<circle cx="74.41" cy="25.84" r="2.16" fill="#FFFFFF" stroke="#FF8000" stroke-width="1.00"/>
<circle cx="85.39" cy="26.49" r="2.16" fill="#FFFFFF" stroke="#FF8000" stroke-width="1.00"/>
<circle cx="96.38" cy="27.37" r="2.16" fill="#FFFFFF" stroke="#FF8000" stroke-width="1.00"/>
<circle cx="107.36" cy="28.49" r="2.16" fill="#FFFFFF" stroke="#FF8000" stroke-width="1.00"/>
<circle cx="118.35" cy="29.86" r="2.16" fill="#FFFFFF" stroke="#FF8000" stroke-width="1.00"/>
<circle cx="129.33" cy="31.48" r="2.16" fill="#FFFFFF" stroke="#FF8000" stroke-width="1.00"/>
<circle cx="140.32" cy="33.37" r="2.16" fill="#FFFFFF" stroke="#FF8000" stroke-width="1.00"/>
<circle cx="151.30" cy="35.52" r="2.16" fill="#FFFFFF" stroke="#FF8000" stroke-width="1.00"/>
<circle cx="162.29" cy="37.95" r="2.16" fill="#FFFFFF" stroke="#FF8000" stroke-width="1.00"/>
<circle cx="173.27" cy="40.66" r="2.16" fill="#FFFFFF" stroke="#FF8000" stroke-width="1.00"/>
<circle cx="184.26" cy="43.65" r="2.16" fill="#FFFFFF" stroke="#FF8000" stroke-width="1.00"/>
<circle cx="195.24" cy="46.94" r="2.16" fill="#FFFFFF" stroke="#FF8000" stroke-width="1.00"/>
<circle cx="206.23" cy="50.52" r="2.16" fill="#FFFFFF" stroke="#FF8000" stroke-width="1.00"/>
<circle cx="217.21" cy="54.39" r="2.16" fill="#FFFFFF" stroke="#FF8000" stroke-width="1.00"/>
<circle cx="228.20" cy="58.57" r="2.16" fill="#FFFFFF" stroke="#FF8000" stroke-width="1.00"/>
<circle cx="239.18" cy="63.06" r="2.16" fill="#FFFFFF" stroke="#FF8000" stroke-width="1.00"/>
<circle cx="250.17" cy="67.85" r="2.16" fill="#FFFFFF" stroke="#FF8000" stroke-width="1.00"/>
<circle cx="261.15" cy="72.96" r="2.16" fill="#FFFFFF" stroke="#FF8000" stroke-width="1.00"/>
<circle cx="272.14" cy="78.38" r="2.16" fill="#FFFFFF" stroke="#FF8000" stroke-width="1.00"/>
<circle cx="283.12" cy="84.12" r="2.16" fill="#FFFFFF" stroke="#FF8000" stroke-width="1.00"/>
<circle cx="294.11" cy="90.18" r="2.16" fill="#FFFFFF" stroke="#FF8000" stroke-width="1.00"/>
<circle cx="305.09" cy="96.57" r="2.16" fill="#FFFFFF" stroke="#FF8000" stroke-width="1.00"/>
<circle cx="316.08" cy="103.28" r="2.16" fill="#FFFFFF" stroke="#FF8000" stroke-width="1.00"/>
<circle cx="327.07" cy="110.33" r="2.16" fill="#FFFFFF" stroke="#FF8000" stroke-width="1.00"/>
</g>
<path d="M40.90 5.00H349.70" stroke="#000" stroke-width="1"/>
<path d="M41.50 5.00V218.10" stroke="#2a2a2a" stroke-width="1.2"/>
<path d="M349.10 5.00V218.10" stroke="#2a2a2a" stroke-width="1.2"/>
<path d="M40.90 217.50H349.70" stroke="#222" stroke-width="1.2"/>
<path d="M41.50 5.00H45.50 M41.50 40.40H45.50 M41.50 75.80H45.50 M41.50 111.20H45.50 M41.50 22.70H43.50 M41.50 58.10H43.50 M41.50 93.50H43.50 M41.50 137.70H45.50 M41.50 164.20H45.50 M41.50 190.70H45.50 M41.50 124.45H43.50 M41.50 150.95H43.50 M41.50 177.45H43.50 M41.50 203.95H43.50 M41.45 217.50V213.00 M88.80 217.50V213.00 M136.15 217.50V213.00 M183.50 217.50V213.00 M230.85 217.50V213.00 M278.20 217.50V213.00 M325.55 217.50V213.00 M65.12 217.50V215.00 M112.48 217.50V215.00 M159.82 217.50V215.00 M207.18 217.50V215.00 M254.53 217.50V215.00 M301.88 217.50V215.00" stroke="#000" stroke-width="1" fill="none"/>
<text x="37.4" y="8.90" font-size="11.5" text-anchor="end">7.5</text>
<text x="37.4" y="43.30" font-size="11.5" text-anchor="end">5.0</text>
<text x="37.4" y="78.70" font-size="11.5" text-anchor="end">2.5</text>
<text x="37.4" y="114.10" font-size="11.5" text-anchor="end">0.0</text>
<text x="37.4" y="140.60" font-size="11.5" text-anchor="end">-0.5</text>
<text x="37.4" y="167.10" font-size="11.5" text-anchor="end">-1.0</text>
<text x="37.4" y="193.60" font-size="11.5" text-anchor="end">-1.5</text>
<text x="37.4" y="220.10" font-size="11.5" text-anchor="end">-2.0</text>
<text x="41.45" y="230.6" font-size="11.5" text-anchor="middle">0</text>
<text x="88.80" y="230.6" font-size="11.5" text-anchor="middle">1</text>
<text x="136.15" y="230.6" font-size="11.5" text-anchor="middle">2</text>
<text x="183.50" y="230.6" font-size="11.5" text-anchor="middle">3</text>
<text x="230.85" y="230.6" font-size="11.5" text-anchor="middle">4</text>
<text x="278.20" y="230.6" font-size="11.5" text-anchor="middle">5</text>
<text x="325.55" y="230.6" font-size="11.5" text-anchor="middle">6</text>
<text x="196.0" y="243.7" font-size="11.7" text-anchor="middle">T (K)</text>
<text transform="translate(11.1,107.6) rotate(-90)" font-size="11.5">H<tspan font-size="7.2" dy="3.6">C</tspan><tspan dy="-3.6">/(N(E</tspan><tspan font-size="6.8" dy="4.2">F</tspan><tspan dy="-4.2">))</tspan><tspan font-size="6.3" dy="-5.0">1/2</tspan><tspan dy="5.0"> (meV)</tspan></text>
<text transform="translate(11.1,209.2) rotate(-90)" font-size="11.6"><tspan font-size="9.6">&#916;</tspan>F/N(E<tspan font-size="6.8" dy="4.2">F</tspan><tspan dy="-4.2">) (meV</tspan><tspan font-size="6.8" dy="-5.0">2</tspan><tspan dy="5.0">)</tspan></text>
<text x="51.2" y="68.5" font-size="10.1" letter-spacing="-0.15">Thickness</text>
<path d="M50.60 76.50H71.80" stroke="#FF0000" stroke-width="0.60"/>
<polygon points="61.20,73.45 58.75,78.01 63.65,78.01" fill="#FFFFFF" stroke="#FF0000" stroke-width="1.00"/>
<text x="74.50" y="80.60" font-size="10.1" letter-spacing="-0.15">5 ML</text>
<path d="M50.60 88.40H71.80" stroke="#000000" stroke-width="0.60"/>
<polygon points="58.15,88.40 62.71,85.95 62.71,90.85" fill="#FFFFFF" stroke="#000000" stroke-width="1.00"/>
<text x="74.50" y="92.50" font-size="10.1" letter-spacing="-0.15">6 ML</text>
<path d="M50.60 100.20H71.80" stroke="#0000FF" stroke-width="0.60"/>
<rect x="59.33" y="98.33" width="3.74" height="3.74" fill="#FFFFFF" stroke="#0000FF" stroke-width="1.00"/>
<text x="74.50" y="104.30" font-size="10.1" letter-spacing="-0.15">7 ML</text>
<path d="M100.90 76.50H122.60" stroke="#800080" stroke-width="0.60"/>
<polygon points="114.95,76.50 110.39,74.05 110.39,78.95" fill="#FFFFFF" stroke="#800080" stroke-width="1.00"/>
<text x="125.60" y="80.60" font-size="10.1" letter-spacing="-0.15">8 ML</text>
<path d="M100.90 88.40H122.60" stroke="#008000" stroke-width="0.60"/>
<polygon points="111.90,85.88 114.42,88.40 111.90,90.92 109.38,88.40" fill="#FFFFFF" stroke="#008000" stroke-width="1.00"/>
<text x="125.60" y="92.50" font-size="10.1" letter-spacing="-0.15">9 ML</text>
<path d="M100.90 100.20H122.60" stroke="#FF8000" stroke-width="0.60"/>
<circle cx="111.90" cy="100.20" r="2.16" fill="#FFFFFF" stroke="#FF8000" stroke-width="1.00"/>
<text x="125.60" y="104.30" font-size="10.1" letter-spacing="-0.15">10 ML</text>
<path d="M50.60 119.20H71.80" stroke="#FF0000" stroke-width="0.60"/>
<polygon points="61.20,116.15 58.75,120.71 63.65,120.71" fill="#FF0000" stroke="#FF0000" stroke-width="1.00"/>
<text x="74.50" y="123.30" font-size="10.1" letter-spacing="-0.15">5 ML</text>
<path d="M50.60 131.20H71.80" stroke="#000000" stroke-width="0.60"/>
<polygon points="58.15,131.20 62.71,128.75 62.71,133.65" fill="#000000" stroke="#000000" stroke-width="1.00"/>
<text x="74.50" y="135.30" font-size="10.1" letter-spacing="-0.15">6 ML</text>
<path d="M50.60 143.00H71.80" stroke="#0000FF" stroke-width="0.60"/>
<rect x="59.33" y="141.13" width="3.74" height="3.74" fill="#0000FF" stroke="#0000FF" stroke-width="1.00"/>
<text x="74.50" y="147.10" font-size="10.1" letter-spacing="-0.15">7 ML</text>
<path d="M100.90 119.20H122.60" stroke="#800080" stroke-width="0.60"/>
<polygon points="114.95,119.20 110.39,116.75 110.39,121.65" fill="#800080" stroke="#800080" stroke-width="1.00"/>
<text x="125.60" y="123.30" font-size="10.1" letter-spacing="-0.15">8 ML</text>
<path d="M100.90 131.20H122.60" stroke="#008000" stroke-width="0.60"/>
<polygon points="111.90,128.68 114.42,131.20 111.90,133.72 109.38,131.20" fill="#008000" stroke="#008000" stroke-width="1.00"/>
<text x="125.60" y="135.30" font-size="10.1" letter-spacing="-0.15">9 ML</text>
<path d="M100.90 143.00H122.60" stroke="#FF8000" stroke-width="0.60"/>
<circle cx="111.90" cy="143.00" r="2.16" fill="#FF8000" stroke="#FF8000" stroke-width="1.00"/>
<text x="125.60" y="147.10" font-size="10.1" letter-spacing="-0.15">10 ML</text>
</svg></body></html>
